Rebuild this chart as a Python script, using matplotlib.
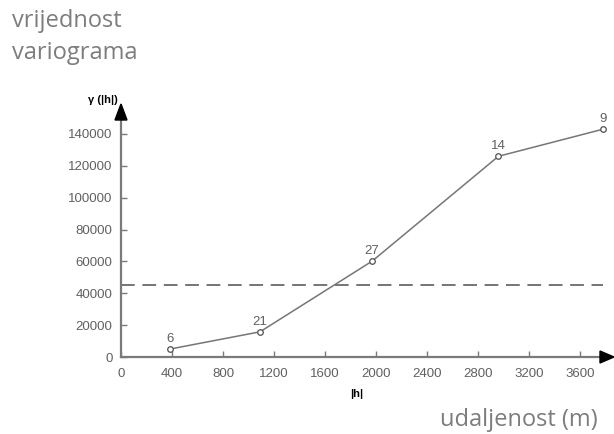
import matplotlib
matplotlib.use("Agg")
import matplotlib.pyplot as plt

# experimental variogram: lag distance |h|, gamma(|h|) and pair counts
lag = [385, 1090, 1970, 2960, 3780]
gamma = [5000, 15800, 60200, 126000, 143000]
pairs = ["6", "21", "27", "14", "9"]
sill = 45000
x_ticks = [0, 400, 800, 1200, 1600, 2000, 2400, 2800, 3200, 3600]
y_ticks = [0, 20000, 40000, 60000, 80000, 100000, 120000, 140000]

W, H = 614, 434
fig = plt.figure(figsize=(W / 100, H / 100), dpi=100)

# axes placed in pixel coordinates of the reference
x0, x1, y0, y1 = 121, 606, 357, 118
ax = fig.add_axes([x0 / W, 1 - y0 / H, (x1 - x0) / W, (y0 - y1) / H])
px_per_x = 51 / 400
px_per_y = 223 / 140000
ax.set_xlim(0, (x1 - x0) / px_per_x)
ax.set_ylim(0, (y0 - y1) / px_per_y)

axis_grey = "#7a7a7a"
text_grey = "#606060"

ax.plot(lag, gamma, color="#767676", lw=1.1, marker="o", ms=4,
        mfc="white", mec="#505050", mew=0.9, zorder=3, clip_on=False)
ax.plot([0, 3780], [sill, sill], color="#505050", lw=1.1,
        dashes=(9, 5), zorder=2, clip_on=False)

for x, y, n in zip(lag, gamma, pairs):
    ax.annotate(n, (x, y), xytext=(0, 3), textcoords="offset points",
                ha="center", va="bottom", fontsize=9.5, color=text_grey,
                family="Liberation Sans")

for side in ["top", "right"]:
    ax.spines[side].set_visible(False)
for side in ["left", "bottom"]:
    ax.spines[side].set_color(axis_grey)
    ax.spines[side].set_linewidth(1.6)

ax.set_xticks(x_ticks)
ax.set_yticks(y_ticks)
ax.tick_params(axis="both", direction="in", length=4, width=1,
               color=axis_grey, labelcolor=text_grey, labelsize=9.5)
ax.tick_params(axis="x", pad=8)
ax.tick_params(axis="y", pad=6)
for lab in ax.get_xticklabels() + ax.get_yticklabels():
    lab.set_family("Liberation Sans")

# arrow heads at the ends of the axes
fig.patches.append(plt.Polygon(
    [[(x0 - 6) / W, 1 - 120 / H], [(x0 + 6) / W, 1 - 120 / H],
     [x0 / W, 1 - 104 / H]], closed=True, color="black",
    transform=fig.transFigure, figure=fig))
fig.patches.append(plt.Polygon(
    [[600 / W, 1 - (y0 - 6) / H], [600 / W, 1 - (y0 + 6) / H],
     [614 / W, 1 - y0 / H]], closed=True, color="black",
    transform=fig.transFigure, figure=fig))

fig.text(103 / W, 1 - 100 / H, "γ (|h|)", fontsize=8, fontweight="bold",
         ha="center", va="center", family="Liberation Sans", color="black")
fig.text(357 / W, 1 - 394 / H, "|h|", fontsize=8, fontweight="bold",
         ha="center", va="center", family="Liberation Sans", color="black")

fig.text(12 / W, 1 - 21 / H, "vrijednost", fontsize=17, color="#7d7d7d",
         ha="left", va="center", family="Open Sans")
fig.text(12 / W, 1 - 53 / H, "variograma", fontsize=17, color="#7d7d7d",
         ha="left", va="center", family="Open Sans")
fig.text(598 / W, 1 - 420 / H, "udaljenost (m)", fontsize=17,
         color="#7d7d7d", ha="right", va="center", family="Open Sans")

fig.savefig("out.png", dpi=100)
